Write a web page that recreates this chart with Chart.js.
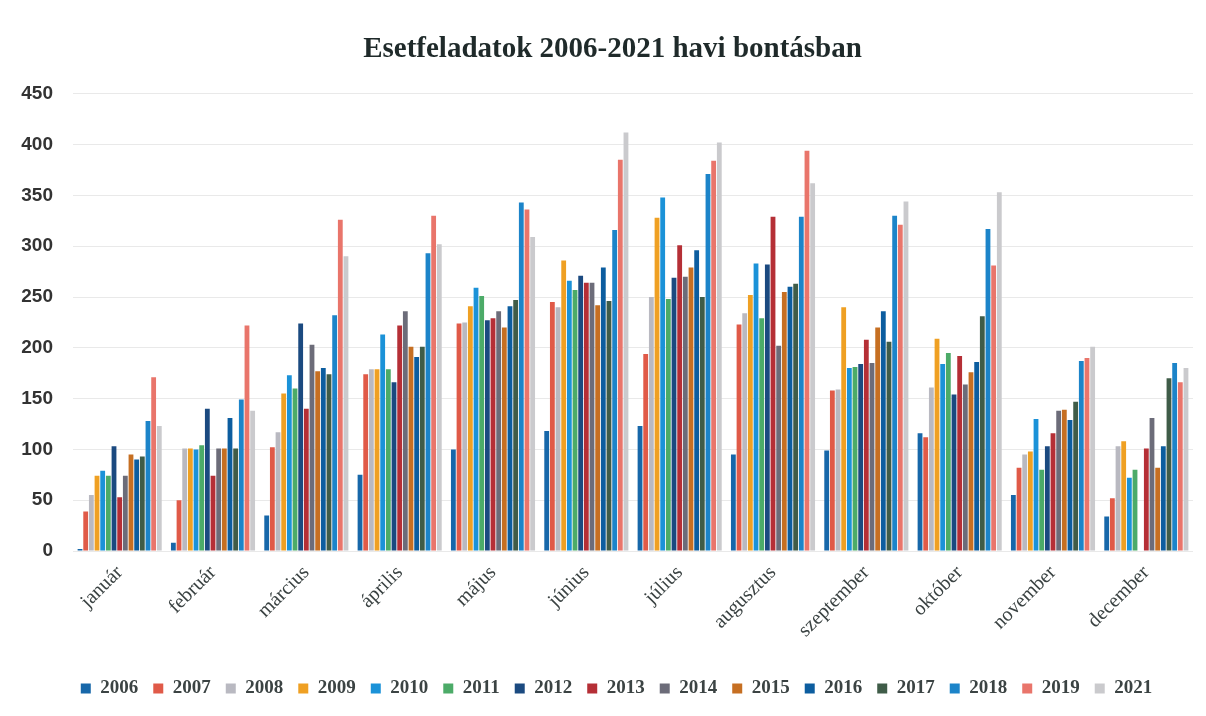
<!DOCTYPE html>
<html lang="hu">
<head>
<meta charset="utf-8">
<title>Esetfeladatok 2006-2021 havi bontásban</title>
<script src="https://cdn.jsdelivr.net/npm/chart.js@4.4.1/dist/chart.umd.min.js"></script>
<style>
    html, body { margin: 0; padding: 0; background: #fff; }
    #wrap { width: 1206px; height: 716px; }
</style>
</head>
<body>
<div id="wrap"><canvas id="chart" width="1206" height="716"></canvas></div>
<script>
const months = ["január", "február", "március", "április", "május", "június", "július", "augusztus", "szeptember", "október", "november", "december"];
const years = ["2006", "2007", "2008", "2009", "2010", "2011", "2012", "2013", "2014", "2015", "2016", "2017", "2018", "2019", "2021"];
const yTicks = [0, 50, 100, 150, 200, 250, 300, 350, 400, 450];

const v2006 = [2, 8, 35, 75, 100, 118, 123, 95, 99, 116, 55, 34];
const v2007 = [39, 50, 102, 174, 224, 245, 194, 223, 158, 112, 82, 52];
const v2008 = [55, 101, 117, 179, 225, 240, 250, 234, 159, 161, 95, 103];
const v2009 = [74, 101, 155, 179, 241, 286, 328, 252, 240, 209, 98, 108];
const v2010 = [79, 100, 173, 213, 259, 266, 348, 283, 180, 184, 130, 72];
const v2011 = [74, 104, 160, 179, 251, 257, 248, 229, 181, 195, 80, 80];
const v2012 = [103, 140, 224, 166, 227, 271, 269, 282, 184, 154, 103, null];
const v2013 = [53, 74, 140, 222, 229, 264, 301, 329, 208, 192, 116, 101];
const v2014 = [74, 101, 203, 236, 236, 264, 270, 202, 185, 164, 138, 131];
const v2015 = [95, 101, 177, 201, 220, 242, 279, 255, 220, 176, 139, 82];
const v2016 = [90, 131, 180, 191, 241, 279, 296, 260, 236, 186, 129, 103];
const v2017 = [93, 101, 174, 201, 247, 246, 250, 263, 206, 231, 147, 170];
const v2018 = [128, 149, 232, 293, 343, 316, 371, 329, 330, 317, 187, 185];
const v2019 = [171, 222, 326, 330, 336, 385, 384, 394, 321, 281, 190, 166];
const v2021 = [123, 138, 290, 302, 309, 412, 402, 362, 344, 353, 201, 180];

const values = [v2006, v2007, v2008, v2009, v2010, v2011, v2012, v2013, v2014, v2015, v2016, v2017, v2018, v2019, v2021];
const colors = ["#1767a9", "#e05a48", "#b9b9c1", "#efa023", "#1b92d8", "#4cab68", "#1b4a80", "#b52f36", "#6c6c79", "#c66f22", "#0c5d9f", "#3f5c48", "#1c84c9", "#e9756b", "#cacacd"];

const textColor = "#3b4343";

// title and legend in the original sit a little right of centre
const shiftBoxes = {
    id: "shiftBoxes",
    afterLayout(chart) {
        chart.legend.left += 20;
        chart.legend.right += 20;
        chart.titleBlock.left += 16;
        chart.titleBlock.right += 16;
    }
};

const context = document.getElementById("chart").getContext("2d");
const chart = new Chart(context, {
    type: "bar",
    data: {
        labels: months,
        datasets: years.map((y, i) => ({
            label: y,
            data: values[i],
            backgroundColor: colors[i],
            borderWidth: 0,
            barPercentage: 0.85,
            categoryPercentage: 0.91
        }))
    },
    plugins: [shiftBoxes],
    options: {
        responsive: false,
        animation: false,
        layout: {
            padding: { left: 0, right: 13, top: 10, bottom: 8 }
        },
        plugins: {
            title: {
                display: true,
                text: "Esetfeladatok 2006-2021 havi bontásban",
                color: "#1f2a2a",
                font: { family: "Liberation Serif", size: 29, weight: "bold" },
                padding: { top: 22, bottom: 27 }
            },
            legend: {
                position: "bottom",
                labels: {
                    color: textColor,
                    font: { family: "Liberation Serif", size: 19, weight: "bold" },
                    boxWidth: 10,
                    boxHeight: 10,
                    padding: 15
                }
            },
            tooltip: { enabled: false }
        },
        scales: {
            x: {
                grid: { display: false, drawTicks: false },
                border: { display: false },
                ticks: {
                    color: textColor,
                    font: { family: "Liberation Serif", size: 20 },
                    minRotation: 45,
                    maxRotation: 45,
                    padding: 10
                },
                afterFit: scale => { scale.height = 113; }
            },
            y: {
                min: 0,
                max: 450,
                afterBuildTicks: scale => { scale.ticks = yTicks.map(v => ({ value: v })); },
                grid: { color: "#e9e9e9", drawTicks: false },
                border: { display: false },
                ticks: {
                    color: "#333",
                    font: { family: "Liberation Sans", size: 19, weight: "bold" },
                    padding: 20
                },
                afterFit: scale => { scale.width = 73; }
            }
        }
    }
});
</script>
</body>
</html>
